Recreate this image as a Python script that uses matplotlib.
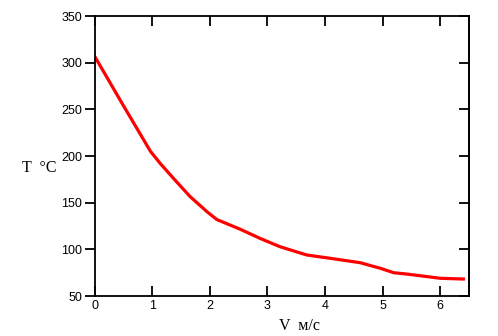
import numpy as np
import matplotlib
matplotlib.use('Agg')
import matplotlib.pyplot as plt

# speed (m/s) and temperature (deg C)
V = [0.0, 0.5, 0.97, 1.14, 1.37, 1.66, 1.95, 2.12, 2.53, 2.87, 3.22, 3.68,
     4.09, 4.61, 4.96, 5.19, 5.45, 6.0, 6.4]
T = [307, 254, 205, 192, 176, 156.4, 140.4, 132, 121.5, 111.8, 102.8, 94,
     90.4, 85.7, 79.7, 75, 73.3, 69, 68.2]

xticks = [0, 1, 2, 3, 4, 5, 6]
yticks = [50, 100, 150, 200, 250, 300, 350]

fig = plt.figure(figsize=(4.98, 3.36), dpi=100)
ax = fig.add_axes([0.19, 0.119, 0.752, 0.833])

ax.plot(V, T, color='red', lw=2.3, solid_joinstyle='round')

ax.set_xlim(0, 6.5)
ax.set_ylim(50, 350)
ax.set_xticks(xticks)
ax.set_yticks(yticks)

for s in ax.spines.values():
    s.set_linewidth(1.3)

ax.tick_params(axis='x', direction='in', length=7, width=1.3, top=True,
               labelsize=9, pad=3)
ax.tick_params(axis='y', direction='out', length=7, width=1.3,
               labelsize=9, pad=2)
for lab in ax.get_xticklabels() + ax.get_yticklabels():
    lab.set_fontfamily('Liberation Sans')

# right-hand ticks point inwards
ax2 = ax.secondary_yaxis('right')
ax2.set_yticks(yticks)
ax2.tick_params(direction='in', length=7, width=1.3, labelright=False)
ax2.spines['right'].set_linewidth(1.3)

fig.text(22 / 498, 1 - 171.5 / 336, 'T  \u00b0C', fontsize=11.5,
         family='Liberation Serif', va='baseline', ha='left')
fig.text(299 / 498, 1 - 330 / 336, 'V  м/с', fontsize=11.5,
         family='Liberation Serif', va='baseline', ha='center')

fig.savefig('out.png', dpi=100)
